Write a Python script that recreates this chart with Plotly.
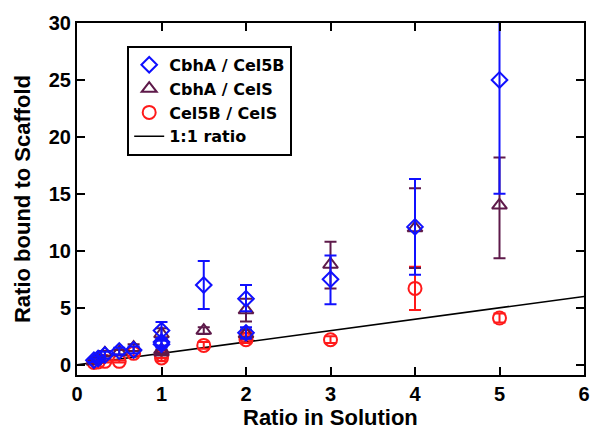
import plotly.graph_objects as go

# CbhA / Cel5B
x_a = [0.2, 0.25, 0.33, 0.5, 0.67, 1, 1, 1, 1.5, 2, 2, 3, 4, 5]
y_a = [0.4, 0.55, 0.85, 1.2, 1.3, 3.0, 2.0, 1.8, 7.0, 5.8, 2.8, 7.5, 12.1, 25.0]
ep_a = [0.15, 0.2, 0.3, 0.3, 0.3, 0.75, 0.3, 0.3, 2.1, 1.2, 0.5, 2.1, 4.2, 6.0]
em_a = [0.15, 0.2, 0.3, 0.3, 0.3, 0.7, 0.3, 0.3, 2.1, 1.1, 0.5, 2.2, 4.2, 10.0]

# CbhA / CelS
x_b = [0.2, 0.25, 0.33, 0.5, 0.67, 1, 1, 1, 1.5, 2, 2, 3, 4, 5]
y_b = [0.3, 0.5, 1.0, 1.1, 1.5, 2.7, 1.3, 1.1, 3.0, 4.8, 2.7, 8.8, 12.0, 14.0]
ep_b = [0.1, 0.15, 0.2, 0.2, 0.3, 0.5, 0.3, 0.2, 0.3, 1.0, 0.4, 2.0, 3.5, 4.2]
em_b = [0.1, 0.15, 0.2, 0.2, 0.3, 0.5, 0.3, 0.2, 0.3, 1.0, 0.4, 2.1, 3.5, 4.65]

# Cel5B / CelS
x_c = [0.2, 0.25, 0.33, 0.5, 0.67, 1, 1, 1.5, 2, 2, 3, 4, 5]
y_c = [0.2, 0.25, 0.3, 0.3, 1.0, 0.9, 0.6, 1.7, 2.2, 2.5, 2.2, 6.7, 4.1]
ep_c = [0.1, 0.1, 0.1, 0.1, 0.2, 0.3, 0.3, 0.3, 0.3, 0.3, 0.3, 1.9, 0.4]
em_c = [0.1, 0.1, 0.1, 0.1, 0.2, 0.3, 0.3, 0.3, 0.3, 0.3, 0.3, 1.9, 0.4]

# 1:1 ratio
x_line = [0, 6]
y_line = [0, 6]

X_TITLE = "Ratio in Solution"
Y_TITLE = "Ratio bound to Scaffold"

BLUE = "#1010ff"
PURPLE = "#5e1a4a"
RED = "#ff1a1a"
FONT = "Liberation Sans, Arial, sans-serif"
LEGEND_FONT = "DejaVu Sans, Liberation Sans, sans-serif"

fig = go.Figure()
fig.add_trace(go.Scatter(x=x_line, y=y_line, mode="lines", name="1:1 ratio",
                         line=dict(color="black", width=1.5), legendrank=4))
fig.add_trace(go.Scatter(x=x_c, y=y_c, mode="markers", name="Cel5B / CelS",
                         marker=dict(symbol="circle-open", size=13, color=RED, line=dict(width=2)),
                         error_y=dict(type="data", array=ep_c, arrayminus=em_c, color=RED, thickness=2, width=6),
                         legendrank=3))
fig.add_trace(go.Scatter(x=x_b, y=y_b, mode="markers", name="CbhA / CelS",
                         marker=dict(symbol="triangle-up-open", size=13, color=PURPLE, line=dict(width=2)),
                         error_y=dict(type="data", array=ep_b, arrayminus=em_b, color=PURPLE, thickness=2, width=6),
                         legendrank=2))
fig.add_trace(go.Scatter(x=x_a, y=y_a, mode="markers", name="CbhA / Cel5B",
                         marker=dict(symbol="diamond-open", size=12, color=BLUE, line=dict(width=2)),
                         error_y=dict(type="data", array=ep_a, arrayminus=em_a, color=BLUE, thickness=2, width=6),
                         legendrank=1))

axis_common = dict(showline=True, linewidth=2, linecolor="black", mirror="allticks",
                   ticks="inside", ticklen=8, tickwidth=2, tickcolor="black",
                   showgrid=False, zeroline=False, automargin=False,
                   tickfont=dict(family=FONT, size=20, color="black", weight="bold"))

fig.update_xaxes(range=[0, 6], dtick=1, **axis_common)
fig.update_yaxes(range=[-0.9, 30], dtick=5, **axis_common,
                 title=dict(text="<b>" + Y_TITLE + "</b>", font=dict(family=FONT, size=22, color="black"),
                            standoff=12))

fig.add_annotation(text="<b>" + X_TITLE + "</b>", xref="paper", yref="paper",
                   x=0.5, y=-0.12, xanchor="center", yanchor="middle", showarrow=False,
                   font=dict(family=FONT, size=22, color="black"))

fig.update_layout(
    width=594, height=429,
    margin=dict(l=77, r=10, t=23, b=54),
    plot_bgcolor="white", paper_bgcolor="white",
    legend=dict(x=0.099, y=0.935, xanchor="left", yanchor="top",
                bordercolor="black", borderwidth=2, bgcolor="white",
                font=dict(family=LEGEND_FONT, size=16, color="black", weight="bold"),
                tracegroupgap=0),
    showlegend=True,
)

fig.write_html("out.html", post_script="document.body.style.margin='0';",
               config={"displayModeBar": False})
